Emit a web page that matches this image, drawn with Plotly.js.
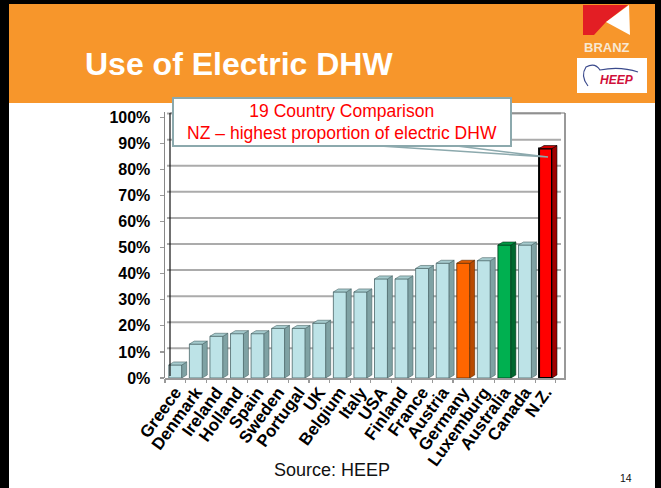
<!DOCTYPE html>
<html>
<head>
<meta charset="utf-8">
<script src="https://cdn.plot.ly/plotly-3.0.1.min.js"></script>
<style>html,body{margin:0;padding:0;background:#fff;}#chart{width:661px;height:488px;}</style>
</head>
<body>
<div id="chart"></div>
<script>
// ---- data ----
var countries = ['Greece','Denmark','Ireland','Holland','Spain','Sweden','Portugal','UK','Belgium','Italy','USA','Finland','France','Austria','Germany','Luxemburg','Australia','Canada','N.Z.'];
var electricShare = [5,13,16,17,17,19,19,21,33,33,38,38,42,44,44,45,51,51,88];
var barGroup = ['b','b','b','b','b','b','b','b','b','b','b','b','b','b','o','b','g','b','r'];
var yTicks = [0,10,20,30,40,50,60,70,80,90,100];
var yTickText = ['0%','10%','20%','30%','40%','50%','60%','70%','80%','90%','100%'];

// ---- styles ----
var palette = {
  b: {front:'#BDE3E7', side:'#7FA2A4', top:'#A6CBCE', line:'#4A6668'},
  o: {front:'#FF6600', side:'#B84A00', top:'#E05A00', line:'#5A2A00'},
  g: {front:'#00B050', side:'#00682F', top:'#009944', line:'#003318'},
  r: {front:'#FF0000', side:'#A00000', top:'#D40000', line:'#000000'}
};
var W = 661, H = 488, L = 165, R = 99, T = 112, B = 110;
var PW = W - L - R, PH = H - T - B;
function px(x){ return (x - L) / PW; }
function py(y){ return (H - B - y) / PH; }

var barW = 0.63, dx = 0.24, dy = 1.15;
var xs = countries.map(function(c, i){ return i; });

var traces = [];
traces.push({
  type: 'bar', x: xs, y: electricShare, width: barW,
  marker: {
    color: barGroup.map(function(g){ return palette[g].front; }),
    line: {color: barGroup.map(function(g){ return palette[g].line; }),
           width: barGroup.map(function(g){ return g === 'r' ? 2 : 0.8; })}
  },
  hoverinfo: 'skip', showlegend: false
});
// 3D side and top faces built from the data
xs.forEach(function(i){
  var v = electricShare[i], p = palette[barGroup[i]];
  var x1 = i + barW/2;
  traces.push({
    type: 'scatter', mode: 'lines', fill: 'toself', fillcolor: p.side,
    x: [x1, x1 + dx, x1 + dx, x1, x1], y: [0, dy, v + dy, v, 0],
    line: {color: p.line, width: 0.6}, hoverinfo: 'skip', showlegend: false
  });
  traces.push({
    type: 'scatter', mode: 'lines', fill: 'toself', fillcolor: p.top,
    x: [i - barW/2, x1, x1 + dx, i - barW/2 + dx, i - barW/2],
    y: [v, v, v + dy, v + dy, v],
    line: {color: p.line, width: 0.6}, hoverinfo: 'skip', showlegend: false
  });
});

var shapes = [];
// back-wall gridlines
yTicks.forEach(function(t){
  if (t === 0) return;
  shapes.push({type:'line', xref:'x', yref:'y', x0:-0.5 + dx*0.4, x1:18.75, y0:t + dy*1.2, y1:t + dy*1.2,
    line:{color:'#ABABAB', width:2}, layer:'below'});
});
// back wall right edge and top
shapes.push({type:'line', xref:'paper', yref:'paper', x0:px(565), x1:px(565), y0:py(380), y1:py(113), line:{color:'#555', width:1.2}});
shapes.push({type:'line', xref:'paper', yref:'paper', x0:px(170), x1:px(565), y0:py(113), y1:py(113), line:{color:'#777', width:1.2}});
// left wall inner edge
shapes.push({type:'line', xref:'paper', yref:'paper', x0:px(170), x1:px(170), y0:py(376), y1:py(113), line:{color:'#111', width:1.2}});
// floor
shapes.push({type:'line', xref:'paper', yref:'paper', x0:px(165), x1:px(565), y0:py(379), y1:py(379), line:{color:'#999', width:2}});

// header band
shapes.push({type:'rect', xref:'paper', yref:'paper', x0:px(0), x1:px(661), y0:py(103), y1:py(0), fillcolor:'#F7962B', line:{width:0}, layer:'below'});
// BRANZ logo
shapes.push({type:'path', xref:'paper', yref:'paper',
  path:'M '+px(583)+' '+py(5)+' L '+px(628)+' '+py(5)+' L '+px(606)+' '+py(22)+' L '+px(594)+' '+py(35)+' L '+px(583)+' '+py(35)+' Z',
  fillcolor:'#E31E24', line:{width:0}});
shapes.push({type:'path', xref:'paper', yref:'paper',
  path:'M '+px(629)+' '+py(5)+' L '+px(606)+' '+py(22)+' L '+px(630)+' '+py(35)+' Z',
  fillcolor:'#FFFFFF', line:{width:0}});
// HEEP logo box
shapes.push({type:'rect', xref:'paper', yref:'paper', x0:px(577), x1:px(647), y0:py(93), y1:py(58), fillcolor:'#FFFFFF', line:{width:0}});
shapes.push({type:'path', xref:'paper', yref:'paper',
  path:'M '+px(588)+' '+py(86)+' Q '+px(580)+' '+py(76)+' '+px(586)+' '+py(67)+' Q '+px(595)+' '+py(62)+' '+px(600)+' '+py(70)+' Q '+px(620)+' '+py(66)+' '+px(638)+' '+py(72),
  line:{color:'#3B4A8C', width:1.2}});
// callout wedge
shapes.push({type:'path', xref:'paper', yref:'paper',
  path:'M '+px(380)+' '+py(146)+' L '+px(548)+' '+py(157)+' L '+px(457)+' '+py(146)+' Z',
  fillcolor:'#FFFFFF', line:{color:'#8CA9AD', width:1.5}});
// slide frame
shapes.push({type:'rect', xref:'paper', yref:'paper', x0:px(0), x1:px(9), y0:py(488), y1:py(0), fillcolor:'#000', line:{width:0}});
shapes.push({type:'rect', xref:'paper', yref:'paper', x0:px(0), x1:px(661), y0:py(4), y1:py(0), fillcolor:'#000', line:{width:0}});
shapes.push({type:'rect', xref:'paper', yref:'paper', x0:px(655), x1:px(661), y0:py(488), y1:py(0), fillcolor:'#000', line:{width:0}});

var annotations = [
  {xref:'paper', yref:'paper', x:px(83), y:py(64), xanchor:'left', yanchor:'middle', showarrow:false,
   text:'<b>Use of Electric DHW</b>', font:{family:'Liberation Sans, Arial, sans-serif', size:32, color:'#FFFFFF'}},
  {xref:'paper', yref:'paper', x:px(607), y:py(47), xanchor:'center', yanchor:'middle', showarrow:false,
   text:'<b>BRANZ</b>', font:{family:'Liberation Sans, Arial, sans-serif', size:13, color:'#F8E8D2'}},
  {xref:'paper', yref:'paper', x:px(617), y:py(80), xanchor:'center', yanchor:'middle', showarrow:false,
   text:'<b><i>HEEP</i></b>', font:{family:'Liberation Sans, Arial, sans-serif', size:12, color:'#D0103A'}},
  {xref:'paper', yref:'paper', x:px(342), y:py(122), xanchor:'center', yanchor:'middle', showarrow:false,
   width:336, height:46, bgcolor:'#FFFFFF', bordercolor:'#8CA9AD', borderwidth:2, borderpad:0,
   text:'19 Country Comparison<br>NZ \u2013 highest proportion of electric DHW',
   font:{family:'Liberation Sans, Arial, sans-serif', size:17.5, color:'#FF0000'}},
  {xref:'paper', yref:'paper', x:px(332), y:py(470), xanchor:'center', yanchor:'middle', showarrow:false,
   text:'Source: HEEP', font:{family:'Liberation Sans, Arial, sans-serif', size:18, color:'#111111'}},
  {xref:'paper', yref:'paper', x:px(626), y:py(478), xanchor:'center', yanchor:'middle', showarrow:false,
   text:'14', font:{family:'Liberation Sans, Arial, sans-serif', size:10.5, color:'#111111'}}
];

var layout = {
  width: W, height: H,
  margin: {l: L, r: R, t: T, b: B, pad: 0},
  paper_bgcolor: '#FFFFFF', plot_bgcolor: 'rgba(0,0,0,0)',
  showlegend: false,
  font: {family: 'Liberation Sans, Arial, sans-serif', color: '#000'},
  xaxis: {
    range: [-0.5, 18.8], tickmode: 'array', tickvals: xs, ticktext: countries,
    tickangle: -54, ticks: '', showgrid: false, zeroline: false,
    showline: false,
    tickfont: {family: 'Liberation Sans, Arial, sans-serif', size: 17, color: '#000', weight: 'bold'},
    minor: {tickmode: 'array', tickvals: xs.map(function(i){ return i - 0.5; }).concat([18.5]), ticks: 'outside', ticklen: 4, tickcolor: '#999', tickwidth: 1.2},
    fixedrange: true
  },
  yaxis: {
    range: [0, 102], tickmode: 'array', tickvals: yTicks, ticktext: yTickText,
    ticks: 'outside', ticklen: 4, tickcolor: '#999', tickwidth: 1.2,
    showgrid: false, zeroline: false, showline: true, linecolor: '#888', linewidth: 1.5,
    ticklabelstandoff: 6,
    tickfont: {family: 'Liberation Sans, Arial, sans-serif', size: 16, color: '#000', weight: 'bold'},
    fixedrange: true
  },
  shapes: shapes,
  annotations: annotations
};

Plotly.newPlot('chart', traces, layout, {displayModeBar: false, staticPlot: true});
</script>
</body>
</html>
